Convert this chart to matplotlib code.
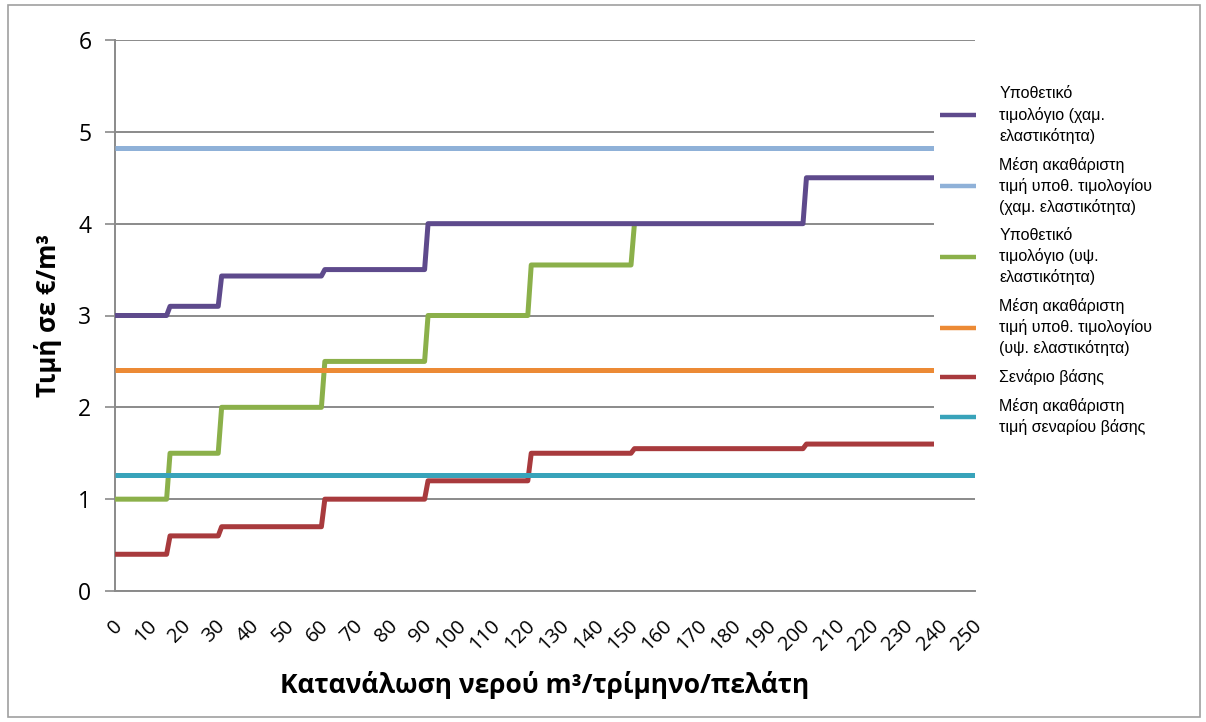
import matplotlib
matplotlib.use("Agg")
import matplotlib.pyplot as plt
from matplotlib.patches import Rectangle
from matplotlib.transforms import ScaledTranslation

# ---- data ----
x_steps = [0, 15, 16, 30, 31, 60, 61, 90, 91, 120, 121, 150, 151, 200, 201, 250]
purple_vals = [3.0, 3.0, 3.1, 3.1, 3.43, 3.43, 3.5, 3.5, 4.0, 4.0, 4.0, 4.0, 4.0, 4.0, 4.5, 4.5]
green_x = [0, 15, 16, 30, 31, 60, 61, 90, 91, 120, 121, 150, 151]
green_vals = [1.0, 1.0, 1.5, 1.5, 2.0, 2.0, 2.5, 2.5, 3.0, 3.0, 3.55, 3.55, 4.0]
red_vals = [0.4, 0.4, 0.6, 0.6, 0.7, 0.7, 1.0, 1.0, 1.2, 1.2, 1.5, 1.5, 1.55, 1.55, 1.6, 1.6]
avg_low = 4.82
avg_high = 2.41
avg_base = 1.26
x_range = [0, 250]
xticks = list(range(0, 251, 10))
yticks = [0, 1, 2, 3, 4, 5, 6]

labels = [
    "Υποθετικό\nτιμολόγιο (χαμ.\nελαστικότητα)",
    "Μέση ακαθάριστη\nτιμή υποθ. τιμολογίου\n(χαμ. ελαστικότητα)",
    "Υποθετικό\nτιμολόγιο (υψ.\nελαστικότητα)",
    "Μέση ακαθάριστη\nτιμή υποθ. τιμολογίου\n(υψ. ελαστικότητα)",
    "Σενάριο βάσης",
    "Μέση ακαθάριστη\nτιμή σεναρίου βάσης",
]
colors = ["#5E4A8C", "#8FB1D8", "#8BB04A", "#EC8A35", "#A83A3D", "#38A3BA"]

W, H = 1206, 722
fig = plt.figure(figsize=(W / 100, H / 100), dpi=100)
ax = fig.add_axes([115 / W, 1 - 591 / H, (975 - 115) / W, (591 - 40) / H])

lw = 3.6
l1, = ax.plot(x_steps, purple_vals, color=colors[0], lw=lw, solid_capstyle="butt", zorder=3)
l2, = ax.plot(x_range, [avg_low, avg_low], color=colors[1], lw=lw, solid_capstyle="butt", zorder=3)
l3, = ax.plot(green_x, green_vals, color=colors[2], lw=lw, solid_capstyle="butt", zorder=2.9)
l4, = ax.plot(x_range, [avg_high, avg_high], color=colors[3], lw=lw, solid_capstyle="butt", zorder=3)
l5, = ax.plot(x_steps, red_vals, color=colors[4], lw=lw, solid_capstyle="butt", zorder=3)
l6, = ax.plot(x_range, [avg_base, avg_base], color=colors[5], lw=lw, solid_capstyle="butt", zorder=3)

ax.set_xlim(0, 250)
ax.set_ylim(0, 6)
ax.set_yticks(yticks)
ax.set_xticks(xticks)
ax.yaxis.grid(True, color="#8a8a8a", lw=1.4)
ax.set_axisbelow(True)
for s in ["top", "right"]:
    ax.spines[s].set_visible(False)
ax.spines["left"].set_color("#8a8a8a")
ax.spines["bottom"].set_color("#8a8a8a")
ax.spines["left"].set_linewidth(1.4)
ax.spines["bottom"].set_linewidth(1.4)
ax.tick_params(axis="y", length=7, color="#8a8a8a", width=1.2, pad=10)
ax.tick_params(axis="x", length=0, pad=23)

tfont = ["Open Sans", "DejaVu Sans"]
for t in ax.get_yticklabels():
    t.set_fontfamily(tfont)
    t.set_fontsize(16.5)
ax.set_xticklabels([str(v) for v in xticks], rotation=45, ha="right", va="center",
                   rotation_mode="anchor", fontsize=14.5, family=tfont)
shift = ScaledTranslation(3 / 72, 0, fig.dpi_scale_trans)
for t in ax.get_xticklabels():
    t.set_transform(t.get_transform() + shift)

ax.set_ylabel("Τιμή σε €/m³", fontsize=18.5, fontweight="bold", family=tfont, labelpad=12)
ax.set_xlabel("Κατανάλωση νερού m³/τρίμηνο/πελάτη", fontsize=19, fontweight="bold",
              family=tfont, labelpad=12)

# white legend area covering the plot's right edge
fig.patches.append(Rectangle((934 / W, 1 - 468 / H), (1196 - 934) / W, (468 - 72) / H,
                             transform=fig.transFigure, facecolor="white",
                             edgecolor="none", zorder=1))

leg = fig.legend([l1, l2, l3, l4, l5, l6], labels, loc="upper left",
                 bbox_to_anchor=(934 / W, 1 - 80 / H), borderaxespad=0,
                 frameon=False,
                 prop={"family": ["Liberation Sans", "DejaVu Sans"], "size": 11.5},
                 handlelength=2.2, handletextpad=1.5, labelspacing=0.8, borderpad=0.4)
for line in leg.get_lines():
    line.set_linewidth(3.2)
for t in leg.get_texts():
    t.set_linespacing(1.4)
leg.set_zorder(5)

fig.patches.append(Rectangle((8 / W, 5 / H), (1200 - 8) / W, (717 - 5) / H,
                             transform=fig.transFigure, fill=False, edgecolor="#a0a0a0",
                             lw=1.2, zorder=6))

fig.savefig("out.png", dpi=100)
